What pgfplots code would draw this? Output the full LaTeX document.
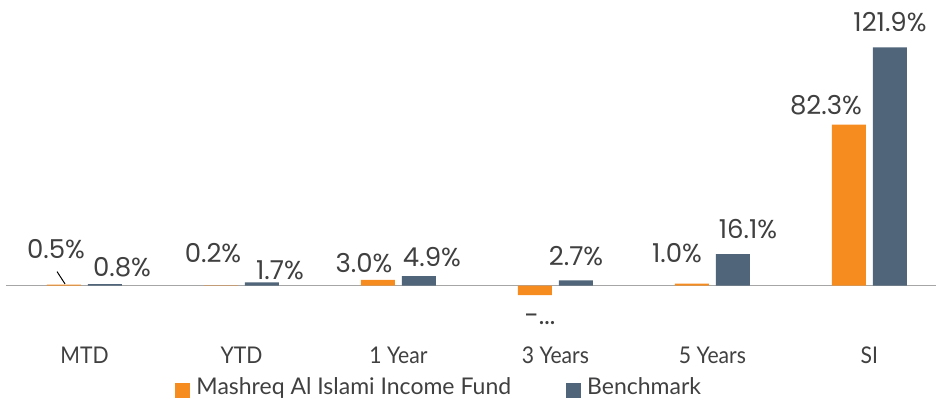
\documentclass[border=0pt]{standalone}
\usepackage{fontspec}
\setmainfont{Lato}
\newfontfamily\labfont{Poppins}
\newfontfamily\catfont[FakeStretch=0.92]{Lato}
\usepackage{pgfplots}
\pgfplotsset{compat=1.18}
\usepackage{pgfplotstable}
\definecolor{fundc}{HTML}{F68C1F}
\definecolor{benchc}{HTML}{506579}
\definecolor{txt}{HTML}{404040}

% category index, value
\pgfplotstableread{
x y
0 0.5
1 0.2
2 3.0
3 -4.8
4 1.0
5 82.3
}\fund
\pgfplotstableread{
x y
0 0.8
1 1.7
2 4.9
3 2.7
4 16.1
5 121.9
}\bench
% data-label positions (as placed in the reference)
\pgfplotstableread{
x y lab
-0.1815 14.0 0.5\%
0.8185 11.6 0.2\%
1.780 6.65 3.0\%
2.901 -20.1 -...
3.774 12.1 1.0\%
4.723 87.3 82.3\%
0.239 4.45 0.8\%
1.245 2.91 1.7\%
2.213 9.56 4.9\%
3.131 10.07 2.7\%
4.226 23.9 16.1\%
5.131 129.9 121.9\%
}\labels

\begin{document}
\begin{tikzpicture}
\useasboundingbox (0,0) rectangle (936pt,400pt);
\begin{axis}[
 at={(6pt,67.4pt)}, anchor=south west,
 scale only axis, width=930pt, height=312.9pt,
 xmin=-0.5, xmax=5.424, ymin=-24, ymax=136,
 clip=false,
 axis line style={draw=none},
 ytick=\empty,
 xtick={0,1,2,3,4,5},
 xticklabels={MTD,YTD,1 Year,3 Years,5 Years,SI},
 xtick style={draw=none},
 xticklabel style={font=\catfont\fontsize{23}{27}\selectfont, text=txt, anchor=base, yshift=-30.4pt},
 legend columns=2,
 legend image code/.code={\fill[#1,draw=none] (0pt,-11pt) rectangle (15pt,4pt);},
 legend style={draw=none, fill=none, font=\fontsize{23}{27}\selectfont, text=txt,
   inner sep=0pt, nodes={inner sep=0pt},
   at={(axis description cs:0.182,-0.177)}, anchor=west,
   /tikz/every odd column/.append style={column sep=6pt},
   /tikz/every even column/.append style={column sep=55pt}},
]
\draw[black!35, line width=1.5pt] (axis cs:-0.5,0) -- (axis cs:5.424,0);
\addplot[ybar, bar width=34pt, fill=fundc, draw=none, bar shift=-20.5pt] table[x=x, y=y] {\fund};
\addlegendentry{Mashreq Al Islami Income Fund}
\addplot[ybar, bar width=34pt, fill=benchc, draw=none, bar shift=20.5pt] table[x=x, y=y] {\bench};
\addlegendentry{Benchmark}
\addplot[draw=none, mark=none, forget plot,
  nodes near coords={\pgfplotspointmeta},
  point meta=explicit symbolic,
  every node near coord/.append style={font=\labfont\fontsize{26}{30}\selectfont, text=txt, anchor=base, inner sep=0pt}]
  table[x=x, y=y, meta=lab] {\labels};
\draw[black, line width=1pt] (axis cs:-0.175,7.2) -- (axis cs:-0.124,0.9);
\end{axis}
\end{tikzpicture}
\end{document}
